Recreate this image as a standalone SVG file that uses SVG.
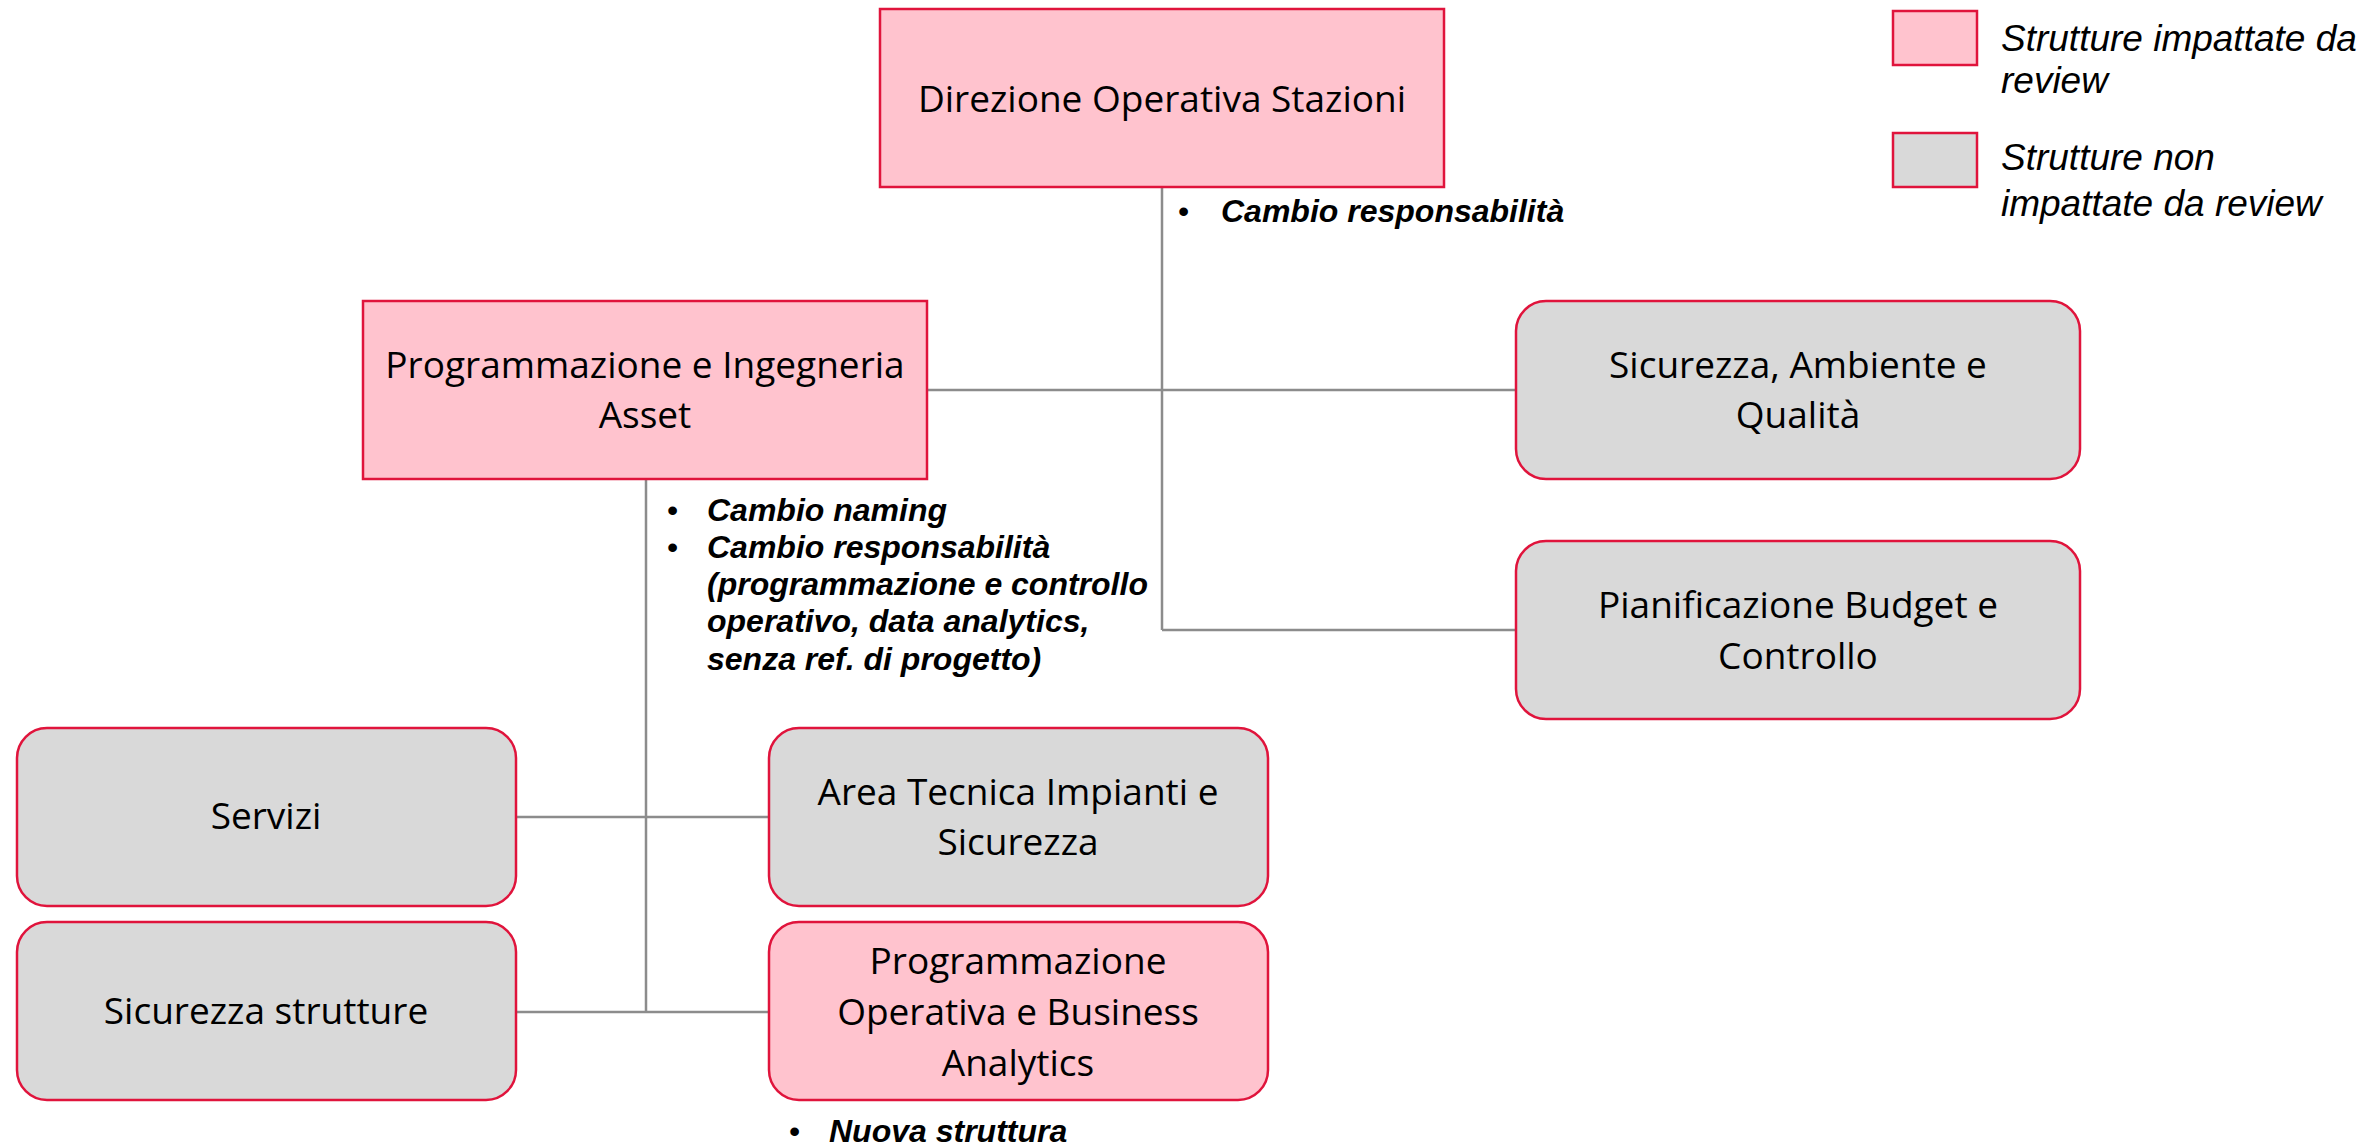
<svg xmlns="http://www.w3.org/2000/svg" width="2363" height="1145" viewBox="0 0 2363 1145">
<style>
.pink{fill:#FFC3CE;stroke:#E0143C;stroke-width:2.5}
.gray{fill:#D9D9D9;stroke:#E0143C;stroke-width:2.5}
.lbl{font-family:"Open Sans","Noto Sans",sans-serif;font-size:37px;fill:#000;text-anchor:middle}
.note{font-family:"Liberation Sans",Arial,sans-serif;font-size:32px;font-weight:bold;font-style:italic;fill:#000}
.bul{font-family:"Liberation Sans",Arial,sans-serif;font-size:32px;fill:#000}
.leg{font-family:"Liberation Sans",Arial,sans-serif;font-size:37px;font-style:italic;fill:#000}
.conn{stroke:#8C8C8C;stroke-width:2.5;fill:none}
</style>
<rect width="2363" height="1145" fill="#fff"/>
<g id="connectors">
<line class="conn" x1="1162" y1="187" x2="1162" y2="630"/>
<line class="conn" x1="927" y1="390" x2="1516" y2="390"/>
<line class="conn" x1="1162" y1="630" x2="1516" y2="630"/>
<line class="conn" x1="646" y1="479" x2="646" y2="1012"/>
<line class="conn" x1="516" y1="817" x2="769" y2="817"/>
<line class="conn" x1="516" y1="1012" x2="769" y2="1012"/>
</g>
<g id="node-direzione">
<rect class="pink" x="880" y="9" width="564" height="178"/>
<text class="lbl" x="1162" y="112">Direzione Operativa Stazioni</text>
</g>
<g id="note-direzione">
<text class="bul" x="1178" y="222">•</text>
<text class="note" x="1221" y="222">Cambio responsabilità</text>
</g>
<g id="node-programmazione-ingegneria">
<rect class="pink" x="363" y="301" width="564" height="178"/>
<text class="lbl" x="645" y="378">Programmazione e Ingegneria</text>
<text class="lbl" x="645" y="428">Asset</text>
</g>
<g id="note-programmazione">
<text class="bul" x="667" y="521">•</text>
<text class="note" x="707" y="521">Cambio naming</text>
<text class="bul" x="667" y="558">•</text>
<text class="note" x="707" y="558">Cambio responsabilità</text>
<text class="note" x="707" y="595">(programmazione e controllo</text>
<text class="note" x="707" y="632">operativo, data analytics,</text>
<text class="note" x="707" y="670">senza ref. di progetto)</text>
</g>
<g id="node-sicurezza-ambiente">
<rect class="gray" x="1516" y="301" width="564" height="178" rx="30"/>
<text class="lbl" x="1798" y="378">Sicurezza, Ambiente e</text>
<text class="lbl" x="1798" y="428">Qualità</text>
</g>
<g id="node-pianificazione">
<rect class="gray" x="1516" y="541" width="564" height="178" rx="30"/>
<text class="lbl" x="1798" y="618">Pianificazione Budget e</text>
<text class="lbl" x="1798" y="669">Controllo</text>
</g>
<g id="node-servizi">
<rect class="gray" x="17" y="728" width="499" height="178" rx="30"/>
<text class="lbl" x="266" y="829">Servizi</text>
</g>
<g id="node-area-tecnica">
<rect class="gray" x="769" y="728" width="499" height="178" rx="30"/>
<text class="lbl" x="1018" y="805">Area Tecnica Impianti e</text>
<text class="lbl" x="1018" y="855">Sicurezza</text>
</g>
<g id="node-sicurezza-strutture">
<rect class="gray" x="17" y="922" width="499" height="178" rx="30"/>
<text class="lbl" x="266" y="1024">Sicurezza strutture</text>
</g>
<g id="node-programmazione-operativa">
<rect class="pink" x="769" y="922" width="499" height="178" rx="30"/>
<text class="lbl" x="1018" y="974">Programmazione</text>
<text class="lbl" x="1018" y="1025">Operativa e Business</text>
<text class="lbl" x="1018" y="1076">Analytics</text>
</g>
<g id="note-nuova">
<text class="bul" x="789" y="1142">•</text>
<text class="note" x="829" y="1142">Nuova struttura</text>
</g>
<g id="legend">
<rect class="pink" x="1893" y="11" width="84" height="54"/>
<text class="leg" x="2001" y="51">Strutture impattate da</text>
<text class="leg" x="2001" y="93">review</text>
<rect class="gray" x="1893" y="133" width="84" height="54"/>
<text class="leg" x="2001" y="170">Strutture non</text>
<text class="leg" x="2001" y="216">impattate da review</text>
</g>
</svg>
